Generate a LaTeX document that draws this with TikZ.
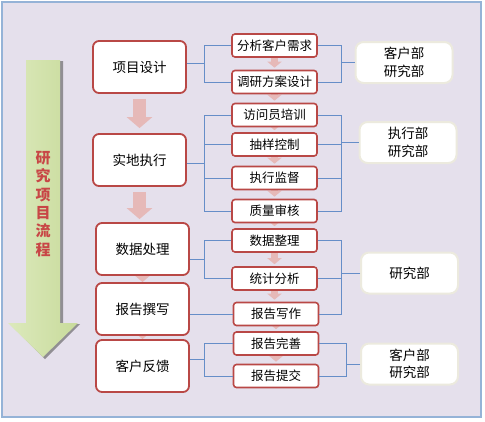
\documentclass[tikz,border=0pt]{standalone}
\usepackage{fontspec}
\setmainfont{Noto Sans CJK SC}
\usepackage{tikz}
\usepackage{xcolor}
\usetikzlibrary{arrows.meta,calc,backgrounds}
\definecolor{bgpurple}{RGB}{229,224,236}
\definecolor{bgframe}{RGB}{149,179,215}
\definecolor{boxred}{RGB}{185,72,70}
\definecolor{linkblue}{RGB}{102,142,200}
\definecolor{flowpink}{RGB}{230,185,184}
\definecolor{deptline}{RGB}{236,234,222}
\definecolor{titlered}{RGB}{200,70,70}
\definecolor{greenlight}{RGB}{220,233,188}
\definecolor{greendark}{RGB}{200,219,155}

\begin{document}
\begin{tikzpicture}[x=1pt,y=-1pt,
  stage/.style={draw=boxred,line width=1.8pt,fill=white,rounded corners=6pt,
    minimum width=93pt,minimum height=52pt,inner sep=0pt,font=\fontsize{13.5}{15}\selectfont},
  task/.style={draw=boxred,line width=1.6pt,fill=white,rounded corners=3pt,
    minimum width=85pt,minimum height=23pt,inner sep=0pt,font=\fontsize{12.5}{14}\selectfont},
  dept/.style={draw=deptline,line width=2pt,fill=white,rounded corners=8pt,
    minimum width=97pt,minimum height=41pt,inner sep=0pt,align=center,
    font=\fontsize{13.5}{17.5}\selectfont},
  link/.style={draw=linkblue,line width=0.9pt},
  bigflow/.style={flowpink,line width=13pt,-{Triangle[length=11pt,width=25pt]}},
  smallflow/.style={flowpink,line width=7pt,-{Triangle[length=6pt,width=14pt]}}]
  \useasboundingbox (0,0) rectangle (485,421);
  % big green arrow
  \fill[black!65,opacity=0.6] (28,61)--(63,61)--(63,324)--(80,324)--(45,359)--(10,324)--(28,324)--cycle;
  \shade[left color=greenlight,right color=greendark] (26,60)--(60,60)--(60,323)--(78,323)--(43,357)--(8,323)--(26,323)--cycle;
  \node[font=\fontsize{15}{18.4}\selectfont\bfseries,text=titlered,align=center] (title) at (43,204)
    {研\\究\\项\\目\\流\\程};
  % stages
  \node[stage] (p1) at (139.5,67) {项目设计};
  \node[stage] (p2) at (139.5,160) {实地执行};
  \node[stage] (p3) at (142.5,249) {数据处理};
  \node[stage] (p4) at (142.5,309) {报告撰写};
  \node[stage] (p5) at (142.5,366) {客户反馈};
  % tasks
  \foreach \n/\x/\y/\t in {1/274.5/45.5/分析客户需求,2/274.5/82/调研方案设计,
      3/274.5/115/访问员培训,4/274.5/144.5/抽样控制,5/274.5/178/执行监督,
      6/274.5/211/质量审核,7/274.5/240.5/数据整理,8/274.5/278.5/统计分析,
      9/276/314/报告写作,10/276/343.5/报告完善,11/276/376/报告提交}
    \node[task] (s\n) at (\x,\y) {\t};
  % departments
  \node[dept] (d1) at (404,62.5) {客户部\\研究部};
  \node[dept] (d2) at (408,142.5) {执行部\\研究部};
  \node[dept] (d3) at (409.5,273) {研究部};
  \node[dept] (d4) at (409.5,364) {客户部\\研究部};
  % left brackets
  \draw[link] (s1.west) -- ++(-27,0) |- (s2.west);
  \coordinate (m1) at ($(s1.west)!0.5!(s2.west)+(-27,0)$);
  \draw[link] (p1.east |- m1) -- (m1);
  \draw[link] (s3.west) -- ++(-27,0) |- (s6.west);
  \draw[link] (s4.west) -- ++(-27,0);
  \draw[link] (s5.west) -- ++(-27,0);
  \coordinate (m2) at ($(s3.west)!0.5!(s6.west)+(-27,0)$);
  \draw[link] (p2.east |- m2) -- (m2);
  \draw[link] (s7.west) -- ++(-27,0) |- (s8.west);
  \coordinate (m3) at ($(s7.west)!0.5!(s8.west)+(-27,0)$);
  \draw[link] (p3.east |- m3) -- (m3);
  \draw[link] (s9.west) -- (s9.west -| p4.east);
  \draw[link] (s10.west) -- ++(-28,0) |- (s11.west);
  \coordinate (m5) at ($(s10.west)!0.5!(s11.west)+(-28,0)$);
  \draw[link] (p5.east |- m5) -- (m5);
  % right brackets
  \coordinate (r1) at ($(s1.east)+(24,0)$);
  \draw[link] (s1.east) -- (r1) |- (s2.east);
  \draw[link] (d1.west) -- (d1.west -| r1);
  \coordinate (r2) at ($(s3.east)+(24,0)$);
  \draw[link] (s3.east) -- (r2) |- (s6.east);
  \draw[link] (s4.east) -- (s4.east -| r2);
  \draw[link] (s5.east) -- (s5.east -| r2);
  \draw[link] (d2.west) -- (d2.west -| r2);
  \coordinate (r3) at ($(s7.east)+(24,0)$);
  \draw[link] (s7.east) -- (r3) |- (s9.east);
  \draw[link] (s8.east) -- (s8.east -| r3);
  \draw[link] (d3.west) -- (d3.west -| r3);
  \coordinate (r4) at ($(s10.east)+(27,0)$);
  \draw[link] (s10.east) -- (r4) |- (s11.east);
  \draw[link] (d4.west) -- (d4.west -| r4);
  % background and flow arrows
  \begin{scope}[on background layer]
    \fill[bgpurple] (2,2) rectangle (481,417);
    \draw[bigflow,shorten <=5pt,shorten >=5pt] (p1.south) -- (p1.south |- p2.north);
    \draw[bigflow,shorten <=5pt,shorten >=3pt] (p2.south) -- (p2.south |- p3.north);
    \draw[bigflow] (p3.center) -- (p3.center |- p4.north);
    \draw[bigflow] (p4.center) -- (p4.center |- p5.north);
    \foreach \a/\b in {1/2,2/3,3/4,4/5,5/6,6/7,7/8,8/9,9/10,10/11}
      \draw[smallflow,shorten >=2pt] (s\a.center) -- (s\a.center |- s\b.north);
  \end{scope}
  \draw[bgframe,line width=2.5pt] (2,2) rectangle (481,417);
\end{tikzpicture}
\end{document}
